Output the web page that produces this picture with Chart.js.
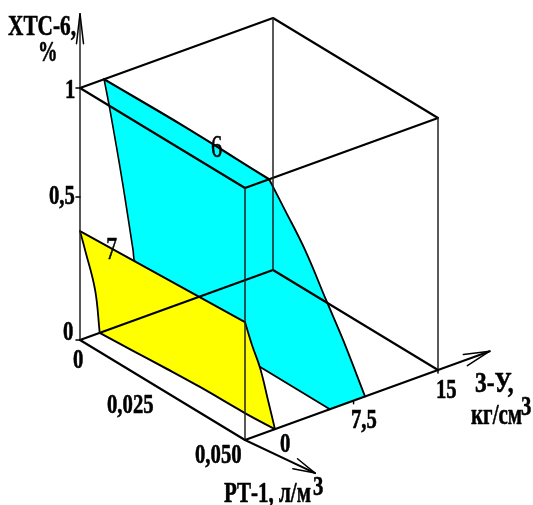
<!DOCTYPE html>
<html><head><meta charset="utf-8">
<style>html,body{margin:0;padding:0;background:#fff}canvas{display:block}</style>
<script src="https://cdn.jsdelivr.net/npm/chart.js@4"></script></head>
<body><canvas id="c" width="533" height="505"></canvas>
<script>
// Values: [RT-1 (l/m3), Z-U (kg/cm2), XTC-6 (%)]
const rtTicks = [0, 0.025, 0.05];
const rtTickLabels = ['0', '0,025', '0,050'];
const zTicks = [0, 7.5, 15];
const zTickLabels = ['0', '7,5', '15'];
const xTicks = [0, 0.567, 1];
const xTickLabels = ['0', '0,5', '1'];
const cyanRT = [0,0.0085,0.0166,0.0247,0.0329,0.0399,0.05, 0.05,0.05,0.05,0.05,0.05, 0.05, 0, 0,0,0,0,0,0];
const cyanZ  = [0,0.05,0.10,0.12,0.10,0.05,0, 1.41,3.19,5.06,6.57,8.52, 5.40, 5.40, 4.08,2.74,2.57,1.6,0.52,0];
const cyanX  = [1,1,1,1,1,1,1, 0.855,0.668,0.439,0.256,0, 0, 0, 0.105,0.23,0.281,0.574,0.87,1];
const yellowRT = [0, 0.05, 0.05,0.05,0.05,0.05, 0.04155,0.0283,0.01895,0.00945,0, 0,0,0];
const yellowZ  = [-2.14,-2.14,-1.52,-0.8,-0.1,0.52, 0.33,0.22,0.04,-0.2,-0.39,-0.8,-1.69,-2.14];
const yellowX  = [0.432,0.468,0.367,0.264,0.126,0, 0,0,0,0,0,0.177,0.35,0.432];

const rtMax = 0.05, zMin = -2.14, zMax = 15, xMax = 1;
const origin = {x:80, y:340}, rtVec = {x:165, y:100}, zVec = {x:193, y:-70}, xVec = {x:0, y:-252};
function P(rt, z, h){
  const a = rt/rtMax, b = (z-zMin)/(zMax-zMin), c = h/xMax;
  return {x: origin.x + a*rtVec.x + b*zVec.x + c*xVec.x,
          y: origin.y + a*rtVec.y + b*zVec.y + c*xVec.y};
}
const sets = [];
function line(pts, w, color, fillColor, tension){
  sets.push({data:pts, borderColor:color||'#000', borderWidth:w, pointRadius:0, showLine:true,
    tension:tension||0, fill: fillColor ? 'shape' : false, backgroundColor: fillColor || 'transparent',
    borderJoinStyle:'round', borderCapStyle:'round'});
}
function arrow(end, from, len, w){
  const d = Math.hypot(end.x-from.x, end.y-from.y), ux=(end.x-from.x)/d, uy=(end.y-from.y)/d;
  const base = {x:end.x-ux*len, y:end.y-uy*len};
  line([{x:base.x-uy*w, y:base.y+ux*w}, end, {x:base.x+uy*w, y:base.y-ux*w}], 1.5);
}
const cyanPts = cyanRT.map((r,i)=>P(r,cyanZ[i],cyanX[i]));
const yellowPts = yellowRT.map((r,i)=>P(r,yellowZ[i],yellowX[i]));
// surfaces: flat fill, then each curved edge as its own smooth stroke
line(cyanPts, 0, 'transparent', '#00ffff');
line(cyanPts.slice(0,7), 2.2, '#000', null, 0.4);
line(cyanPts.slice(6,12), 1.8, '#000', null, 0.4);
line(cyanPts.slice(12,14), 1.8);
line(cyanPts.slice(13,20), 1.6, '#000', null, 0.4);
line(yellowPts, 0, 'transparent', '#ffff00');
line(yellowPts.slice(0,2), 2);
line(yellowPts.slice(1,6), 1.8, '#000', null, 0.4);
line(yellowPts.slice(5,11), 2, '#000', null, 0.4);
line(yellowPts.slice(10,14), 1.8, '#000', null, 0.4);
// box
const f = P;
const o0=f(0,zMin,0), o1=f(0,zMin,1), a0=f(rtMax,zMin,0), a1=f(rtMax,zMin,1),
      b0=f(0,zMax,0), b1=f(0,zMax,1), c0=f(rtMax,zMax,0), c1=f(rtMax,zMax,1);
line([o1,a1,c1,b1,o1], 2.2);
line([o0,a0,c0,b0,o0], 2.2);
line([a0,a1], 1.5, '#222');
line([b0,b1], 1.5, '#222');
line([c0,c1], 1.5, '#222');
// axes with arrows
const xTip = f(0,zMin,1.295), zTip = f(rtMax,19.6,0), rtTip = f(0.0683,-1.28,0);
line([o0,xTip], 1.5, '#222');
line([c0,zTip], 2);
line([a0,rtTip], 2);
arrow(xTip,o0,30,3.5);
arrow(zTip,c0,26,6);
arrow(rtTip,a0,22,5.5);
// tick marks
xTicks.forEach(v=>{const p=f(0,zMin,v); line([{x:p.x-4,y:p.y},p],1.5);});
zTicks.slice(1).forEach(v=>{const p=f(rtMax,v,0); line([p,{x:p.x,y:p.y+3}],1.5);});

const serif = '"Liberation Serif"';
function put(ctx, text, x, y, size, sx, weight){
  ctx.save();
  ctx.translate(x,y); ctx.scale(sx,1);
  ctx.font = (weight||'bold')+' '+size+'px '+serif;
  ctx.textAlign='left'; ctx.textBaseline='alphabetic'; ctx.fillStyle='#000'; ctx.strokeStyle='#000';
  ctx.lineWidth=0.6; ctx.lineJoin='round';
  ctx.fillText(text,0,0); ctx.strokeText(text,0,0);
  ctx.restore();
}
const textPlugin = {id:'labels', afterDatasetsDraw(chart){
  const c = chart.ctx;
  put(c,'ХТС-6,',8,35,30,0.71);
  put(c,'%',38,61,30,0.65);
  put(c,xTickLabels[2],65,98,28,0.74);
  put(c,xTickLabels[1],49,204,28,0.74);
  put(c,xTickLabels[0],63,340,28,0.74);
  put(c,rtTickLabels[0],73,368,28,0.74);
  put(c,rtTickLabels[1],107,413,28,0.74);
  put(c,rtTickLabels[2],195,463,28,0.74);
  put(c,zTickLabels[0],280,452,28,0.74);
  put(c,zTickLabels[1],351,428,28,0.74);
  put(c,zTickLabels[2],436,398,28,0.74);
  put(c,'РТ-1, л/м',224,502,30,0.7);
  put(c,'3',313,495,28,0.74);
  put(c,'3-У,',475,392,30,0.78);
  put(c,'кг/см',471,424,30,0.7);
  put(c,'3',521,415,28,0.74);
  put(c,'6',211,157,32,0.7,'normal');
  put(c,'7',106,259,32,0.7,'normal');
}};
new Chart(document.getElementById('c'), {
  type:'scatter',
  data:{datasets: sets.map((s,i)=>Object.assign(s,{order:sets.length-i}))},
  options:{responsive:false, animation:false, devicePixelRatio:1,
    layout:{padding:0},
    plugins:{legend:{display:false}, tooltip:{enabled:false}},
    scales:{x:{type:'linear',display:false,min:0,max:533},
            y:{type:'linear',display:false,min:0,max:505,reverse:true}}},
  plugins:[textPlugin]
});
</script></body></html>
